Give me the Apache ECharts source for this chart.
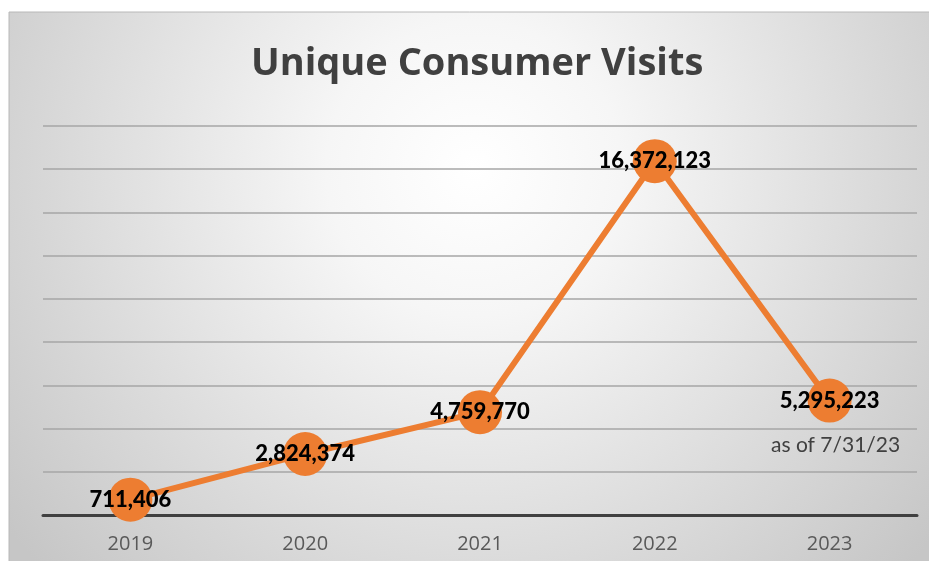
<!DOCTYPE html>
<html>
<head>
<meta charset="utf-8">
<script src="https://cdn.jsdelivr.net/npm/echarts@6/dist/echarts.min.js"></script>
<style>
html,body{margin:0;padding:0;background:#fff;}
#main{width:929px;height:561px;}
</style>
</head>
<body>
<div id="main"></div>
<script>
const titleText = 'Unique Consumer Visits';
const years = ['2019', '2020', '2021', '2022', '2023'];
const visits = [711406, 2824374, 4759770, 16372123, 5295223];
const noteText = 'as of 7/31/23';
const noteYear = '2023';
const noteValue = 5295223;
const yMax = 18000000;
const yStep = 2000000;

const chart = echarts.init(document.getElementById('main'), null, {renderer: 'canvas'});
chart.setOption({
  animation: false,
  graphic: [{
    type: 'rect',
    z: -10,
    silent: true,
    shape: {x: 9, y: 12, width: 930, height: 560},
    style: {
      fill: {
        type: 'radial', x: 0.5, y: 0.28, r: 1.05,
        colorStops: [
          {offset: 0, color: '#ffffff'},
          {offset: 0.25, color: '#f6f6f6'},
          {offset: 0.7, color: '#d9d9d9'},
          {offset: 1, color: '#c6c6c6'}
        ]
      },
      stroke: '#b8b8b8',
      lineWidth: 1
    }
  }],
  title: {
    text: titleText,
    left: 246,
    top: 40,
    textStyle: {
      fontFamily: 'Open Sans',
      fontWeight: 'bold',
      fontSize: 38,
      color: '#404040'
    }
  },
  grid: {left: 43, right: 12, top: 126, bottom: 46},
  xAxis: {
    type: 'category',
    data: years,
    boundaryGap: true,
    axisLine: {show: true, lineStyle: {color: '#404040', width: 3}},
    axisTick: {show: false},
    axisLabel: {
      fontFamily: 'Open Sans',
      fontSize: 20,
      color: '#595959',
      margin: 19
    }
  },
  yAxis: {
    type: 'value',
    min: 0,
    max: yMax,
    interval: yStep,
    axisLine: {show: false},
    axisTick: {show: false},
    axisLabel: {show: false},
    splitLine: {lineStyle: {color: '#a6a6a6', width: 1.5}}
  },
  series: [{
    type: 'line',
    data: visits,
    symbol: 'circle',
    symbolSize: 44,
    lineStyle: {color: '#ED7D31', width: 6},
    itemStyle: {color: '#ED7D31'},
    label: {
      show: true,
      position: 'inside',
      formatter: p => p.value.toLocaleString('en-US'),
      fontFamily: 'Lato',
      fontWeight: 900,
      fontSize: 22,
      color: '#000000'
    },
    markPoint: {
      symbol: 'circle',
      symbolSize: 0,
      silent: true,
      label: {
        show: true,
        position: 'inside',
        offset: [6, 45],
        formatter: noteText,
        fontFamily: 'Lato',
        fontSize: 21,
        color: '#404040'
      },
      data: [{coord: [noteYear, noteValue], value: noteValue}]
    }
  }]
});
</script>
</body>
</html>
